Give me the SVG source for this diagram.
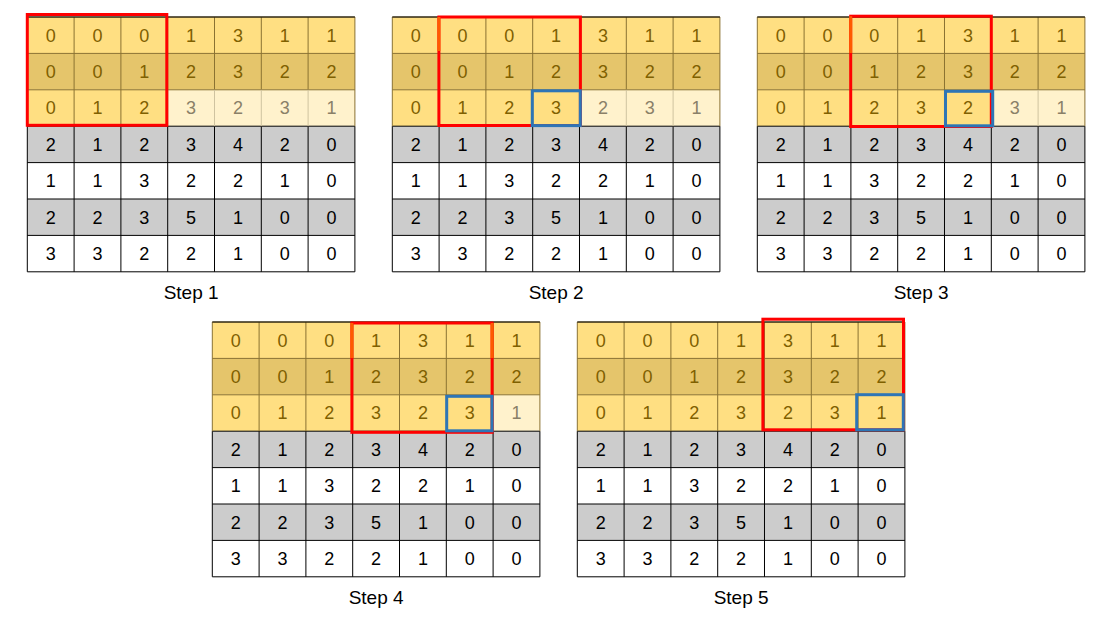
<svg xmlns="http://www.w3.org/2000/svg" width="1113" height="621" viewBox="0 0 1113 621">
<style>
.ya{fill:#FFDF82}.yb{fill:#E5C56B}.lt{fill:#FFF2CC}.gr{fill:#CCCCCC}.wh{fill:#FFFFFF}
.lnb{stroke:#000;stroke-width:1;fill:none}
.lny{stroke:#8A7232;stroke-width:1;fill:none}
.lnl{stroke:#CFC3A0;stroke-width:1;fill:none}
text{font-family:"Liberation Sans",Arial,sans-serif;font-size:18px;text-anchor:middle}
.ty{fill:#7F6000}.tl{fill:#8A8068}.tk{fill:#000}
.lbl{font-size:19px;fill:#000}
.red{fill:none;stroke:#FF0000;stroke-width:3}
.org{fill:none;stroke:#FF5A00;stroke-width:3}
.blu{fill:none;stroke:#2E75B6;stroke-width:3}
</style>
<defs>
<g id="bottomRows">
<rect class="gr" x="0" y="109.2" width="327.6" height="36.4"/>
<rect class="wh" x="0" y="145.6" width="327.6" height="36.4"/>
<rect class="gr" x="0" y="182" width="327.6" height="36.4"/>
<rect class="wh" x="0" y="218.4" width="327.6" height="36.4"/>
<path class="lnb" d="M0 109.2H327.6M0 145.6H327.6M0 182H327.6M0 218.4H327.6M0 254.8H327.6M0 109.2V254.8M46.8 109.2V254.8M93.6 109.2V254.8M140.4 109.2V254.8M187.2 109.2V254.8M234 109.2V254.8M280.8 109.2V254.8M327.6 109.2V254.8"/>
</g>
</defs>

<!-- Step 1 -->
<g id="step1" transform="translate(27.3,17)">
<rect class="ya" x="0" y="0" width="327.6" height="36.4"/>
<rect class="yb" x="0" y="36.4" width="327.6" height="36.4"/>
<rect class="ya" x="0" y="72.8" width="140.4" height="36.4"/>
<rect class="lt" x="140.4" y="72.8" width="187.2" height="36.4"/>
<use href="#bottomRows"/>
<path class="lny" d="M0 0H327.6M0 36.4H327.6M0 72.8H327.6M0 0V109.2M327.6 0V109.2M46.8 0V109.2M93.6 0V109.2M140.4 0V109.2M187.2 0V72.8M234 0V72.8M280.8 0V72.8"/>
<path class="lnl" d="M187.2 72.8V109.2M234 72.8V109.2M280.8 72.8V109.2"/>
<path class="lnb" d="M0 0H327.6"/>
<text class="ty" x="23.4" y="24.6">0</text><text class="ty" x="70.2" y="24.6">0</text><text class="ty" x="117" y="24.6">0</text><text class="ty" x="163.8" y="24.6">1</text><text class="ty" x="210.6" y="24.6">3</text><text class="ty" x="257.4" y="24.6">1</text><text class="ty" x="304.2" y="24.6">1</text>
<text class="ty" x="23.4" y="61">0</text><text class="ty" x="70.2" y="61">0</text><text class="ty" x="117" y="61">1</text><text class="ty" x="163.8" y="61">2</text><text class="ty" x="210.6" y="61">3</text><text class="ty" x="257.4" y="61">2</text><text class="ty" x="304.2" y="61">2</text>
<text class="ty" x="23.4" y="97.4">0</text><text class="ty" x="70.2" y="97.4">1</text><text class="ty" x="117" y="97.4">2</text><text class="tl" x="163.8" y="97.4">3</text><text class="tl" x="210.6" y="97.4">2</text><text class="tl" x="257.4" y="97.4">3</text><text class="tl" x="304.2" y="97.4">1</text>
<text class="tk" x="23.4" y="133.8">2</text><text class="tk" x="70.2" y="133.8">1</text><text class="tk" x="117" y="133.8">2</text><text class="tk" x="163.8" y="133.8">3</text><text class="tk" x="210.6" y="133.8">4</text><text class="tk" x="257.4" y="133.8">2</text><text class="tk" x="304.2" y="133.8">0</text>
<text class="tk" x="23.4" y="170.2">1</text><text class="tk" x="70.2" y="170.2">1</text><text class="tk" x="117" y="170.2">3</text><text class="tk" x="163.8" y="170.2">2</text><text class="tk" x="210.6" y="170.2">2</text><text class="tk" x="257.4" y="170.2">1</text><text class="tk" x="304.2" y="170.2">0</text>
<text class="tk" x="23.4" y="206.6">2</text><text class="tk" x="70.2" y="206.6">2</text><text class="tk" x="117" y="206.6">3</text><text class="tk" x="163.8" y="206.6">5</text><text class="tk" x="210.6" y="206.6">1</text><text class="tk" x="257.4" y="206.6">0</text><text class="tk" x="304.2" y="206.6">0</text>
<text class="tk" x="23.4" y="243">3</text><text class="tk" x="70.2" y="243">3</text><text class="tk" x="117" y="243">2</text><text class="tk" x="163.8" y="243">2</text><text class="tk" x="210.6" y="243">1</text><text class="tk" x="257.4" y="243">0</text><text class="tk" x="304.2" y="243">0</text>
<rect class="red" x="0" y="-2.5" width="139.5" height="110.8"/>
<text class="lbl" x="163.8" y="281.5">Step 1</text>
</g>

<!-- Step 2 -->
<g id="step2" transform="translate(392.3,17)">
<rect class="ya" x="0" y="0" width="327.6" height="36.4"/>
<rect class="yb" x="0" y="36.4" width="327.6" height="36.4"/>
<rect class="ya" x="0" y="72.8" width="187.2" height="36.4"/>
<rect class="lt" x="187.2" y="72.8" width="140.4" height="36.4"/>
<use href="#bottomRows"/>
<path class="lny" d="M0 0H327.6M0 36.4H327.6M0 72.8H327.6M0 0V109.2M327.6 0V109.2M46.8 0V109.2M93.6 0V109.2M140.4 0V109.2M187.2 0V109.2M234 0V72.8M280.8 0V72.8"/>
<path class="lnl" d="M234 72.8V109.2M280.8 72.8V109.2"/>
<path class="lnb" d="M0 0H327.6"/>
<text class="ty" x="23.4" y="24.6">0</text><text class="ty" x="70.2" y="24.6">0</text><text class="ty" x="117" y="24.6">0</text><text class="ty" x="163.8" y="24.6">1</text><text class="ty" x="210.6" y="24.6">3</text><text class="ty" x="257.4" y="24.6">1</text><text class="ty" x="304.2" y="24.6">1</text>
<text class="ty" x="23.4" y="61">0</text><text class="ty" x="70.2" y="61">0</text><text class="ty" x="117" y="61">1</text><text class="ty" x="163.8" y="61">2</text><text class="ty" x="210.6" y="61">3</text><text class="ty" x="257.4" y="61">2</text><text class="ty" x="304.2" y="61">2</text>
<text class="ty" x="23.4" y="97.4">0</text><text class="ty" x="70.2" y="97.4">1</text><text class="ty" x="117" y="97.4">2</text><text class="ty" x="163.8" y="97.4">3</text><text class="tl" x="210.6" y="97.4">2</text><text class="tl" x="257.4" y="97.4">3</text><text class="tl" x="304.2" y="97.4">1</text>
<text class="tk" x="23.4" y="133.8">2</text><text class="tk" x="70.2" y="133.8">1</text><text class="tk" x="117" y="133.8">2</text><text class="tk" x="163.8" y="133.8">3</text><text class="tk" x="210.6" y="133.8">4</text><text class="tk" x="257.4" y="133.8">2</text><text class="tk" x="304.2" y="133.8">0</text>
<text class="tk" x="23.4" y="170.2">1</text><text class="tk" x="70.2" y="170.2">1</text><text class="tk" x="117" y="170.2">3</text><text class="tk" x="163.8" y="170.2">2</text><text class="tk" x="210.6" y="170.2">2</text><text class="tk" x="257.4" y="170.2">1</text><text class="tk" x="304.2" y="170.2">0</text>
<text class="tk" x="23.4" y="206.6">2</text><text class="tk" x="70.2" y="206.6">2</text><text class="tk" x="117" y="206.6">3</text><text class="tk" x="163.8" y="206.6">5</text><text class="tk" x="210.6" y="206.6">1</text><text class="tk" x="257.4" y="206.6">0</text><text class="tk" x="304.2" y="206.6">0</text>
<text class="tk" x="23.4" y="243">3</text><text class="tk" x="70.2" y="243">3</text><text class="tk" x="117" y="243">2</text><text class="tk" x="163.8" y="243">2</text><text class="tk" x="210.6" y="243">1</text><text class="tk" x="257.4" y="243">0</text><text class="tk" x="304.2" y="243">0</text>
<rect class="red" x="46.6" y="0" width="141.5" height="108.5"/>
<path class="org" d="M46.6 0V34"/>
<rect class="blu" x="140" y="73.8" width="48" height="34.8"/>
<text class="lbl" x="163.8" y="281.5">Step 2</text>
</g>

<!-- Step 3 -->
<g id="step3" transform="translate(757.3,17)">
<rect class="ya" x="0" y="0" width="327.6" height="36.4"/>
<rect class="yb" x="0" y="36.4" width="327.6" height="36.4"/>
<rect class="ya" x="0" y="72.8" width="234" height="36.4"/>
<rect class="lt" x="234" y="72.8" width="93.6" height="36.4"/>
<use href="#bottomRows"/>
<path class="lny" d="M0 0H327.6M0 36.4H327.6M0 72.8H327.6M0 0V109.2M327.6 0V109.2M46.8 0V109.2M93.6 0V109.2M140.4 0V109.2M187.2 0V109.2M234 0V109.2M280.8 0V72.8"/>
<path class="lnl" d="M280.8 72.8V109.2"/>
<path class="lnb" d="M0 0H327.6"/>
<text class="ty" x="23.4" y="24.6">0</text><text class="ty" x="70.2" y="24.6">0</text><text class="ty" x="117" y="24.6">0</text><text class="ty" x="163.8" y="24.6">1</text><text class="ty" x="210.6" y="24.6">3</text><text class="ty" x="257.4" y="24.6">1</text><text class="ty" x="304.2" y="24.6">1</text>
<text class="ty" x="23.4" y="61">0</text><text class="ty" x="70.2" y="61">0</text><text class="ty" x="117" y="61">1</text><text class="ty" x="163.8" y="61">2</text><text class="ty" x="210.6" y="61">3</text><text class="ty" x="257.4" y="61">2</text><text class="ty" x="304.2" y="61">2</text>
<text class="ty" x="23.4" y="97.4">0</text><text class="ty" x="70.2" y="97.4">1</text><text class="ty" x="117" y="97.4">2</text><text class="ty" x="163.8" y="97.4">3</text><text class="ty" x="210.6" y="97.4">2</text><text class="tl" x="257.4" y="97.4">3</text><text class="tl" x="304.2" y="97.4">1</text>
<text class="tk" x="23.4" y="133.8">2</text><text class="tk" x="70.2" y="133.8">1</text><text class="tk" x="117" y="133.8">2</text><text class="tk" x="163.8" y="133.8">3</text><text class="tk" x="210.6" y="133.8">4</text><text class="tk" x="257.4" y="133.8">2</text><text class="tk" x="304.2" y="133.8">0</text>
<text class="tk" x="23.4" y="170.2">1</text><text class="tk" x="70.2" y="170.2">1</text><text class="tk" x="117" y="170.2">3</text><text class="tk" x="163.8" y="170.2">2</text><text class="tk" x="210.6" y="170.2">2</text><text class="tk" x="257.4" y="170.2">1</text><text class="tk" x="304.2" y="170.2">0</text>
<text class="tk" x="23.4" y="206.6">2</text><text class="tk" x="70.2" y="206.6">2</text><text class="tk" x="117" y="206.6">3</text><text class="tk" x="163.8" y="206.6">5</text><text class="tk" x="210.6" y="206.6">1</text><text class="tk" x="257.4" y="206.6">0</text><text class="tk" x="304.2" y="206.6">0</text>
<text class="tk" x="23.4" y="243">3</text><text class="tk" x="70.2" y="243">3</text><text class="tk" x="117" y="243">2</text><text class="tk" x="163.8" y="243">2</text><text class="tk" x="210.6" y="243">1</text><text class="tk" x="257.4" y="243">0</text><text class="tk" x="304.2" y="243">0</text>
<rect class="red" x="93.4" y="-0.8" width="140.6" height="110.3"/>
<path class="org" d="M93.4 -0.8V36"/>
<rect class="blu" x="188.2" y="74.3" width="47.2" height="34.5"/>
<text class="lbl" x="163.8" y="281.5">Step 3</text>
</g>

<!-- Step 4 -->
<g id="step4" transform="translate(212.3,322)">
<rect class="ya" x="0" y="0" width="327.6" height="36.4"/>
<rect class="yb" x="0" y="36.4" width="327.6" height="36.4"/>
<rect class="ya" x="0" y="72.8" width="280.8" height="36.4"/>
<rect class="lt" x="280.8" y="72.8" width="46.8" height="36.4"/>
<use href="#bottomRows"/>
<path class="lny" d="M0 0H327.6M0 36.4H327.6M0 72.8H327.6M0 0V109.2M327.6 0V109.2M46.8 0V109.2M93.6 0V109.2M140.4 0V109.2M187.2 0V109.2M234 0V109.2M280.8 0V109.2"/>
<path class="lnb" d="M0 0H327.6"/>
<text class="ty" x="23.4" y="24.6">0</text><text class="ty" x="70.2" y="24.6">0</text><text class="ty" x="117" y="24.6">0</text><text class="ty" x="163.8" y="24.6">1</text><text class="ty" x="210.6" y="24.6">3</text><text class="ty" x="257.4" y="24.6">1</text><text class="ty" x="304.2" y="24.6">1</text>
<text class="ty" x="23.4" y="61">0</text><text class="ty" x="70.2" y="61">0</text><text class="ty" x="117" y="61">1</text><text class="ty" x="163.8" y="61">2</text><text class="ty" x="210.6" y="61">3</text><text class="ty" x="257.4" y="61">2</text><text class="ty" x="304.2" y="61">2</text>
<text class="ty" x="23.4" y="97.4">0</text><text class="ty" x="70.2" y="97.4">1</text><text class="ty" x="117" y="97.4">2</text><text class="ty" x="163.8" y="97.4">3</text><text class="ty" x="210.6" y="97.4">2</text><text class="ty" x="257.4" y="97.4">3</text><text class="tl" x="304.2" y="97.4">1</text>
<text class="tk" x="23.4" y="133.8">2</text><text class="tk" x="70.2" y="133.8">1</text><text class="tk" x="117" y="133.8">2</text><text class="tk" x="163.8" y="133.8">3</text><text class="tk" x="210.6" y="133.8">4</text><text class="tk" x="257.4" y="133.8">2</text><text class="tk" x="304.2" y="133.8">0</text>
<text class="tk" x="23.4" y="170.2">1</text><text class="tk" x="70.2" y="170.2">1</text><text class="tk" x="117" y="170.2">3</text><text class="tk" x="163.8" y="170.2">2</text><text class="tk" x="210.6" y="170.2">2</text><text class="tk" x="257.4" y="170.2">1</text><text class="tk" x="304.2" y="170.2">0</text>
<text class="tk" x="23.4" y="206.6">2</text><text class="tk" x="70.2" y="206.6">2</text><text class="tk" x="117" y="206.6">3</text><text class="tk" x="163.8" y="206.6">5</text><text class="tk" x="210.6" y="206.6">1</text><text class="tk" x="257.4" y="206.6">0</text><text class="tk" x="304.2" y="206.6">0</text>
<text class="tk" x="23.4" y="243">3</text><text class="tk" x="70.2" y="243">3</text><text class="tk" x="117" y="243">2</text><text class="tk" x="163.8" y="243">2</text><text class="tk" x="210.6" y="243">1</text><text class="tk" x="257.4" y="243">0</text><text class="tk" x="304.2" y="243">0</text>
<rect class="red" x="139.6" y="1" width="140.2" height="109.3"/>
<path class="org" d="M139.6 1V36M279.8 1V36"/>
<rect class="blu" x="234.4" y="74.3" width="45.3" height="34.5"/>
<text class="lbl" x="163.8" y="281.5">Step 4</text>
</g>

<!-- Step 5 -->
<g id="step5" transform="translate(577.3,322)">
<rect class="ya" x="0" y="0" width="327.6" height="36.4"/>
<rect class="yb" x="0" y="36.4" width="327.6" height="36.4"/>
<rect class="ya" x="0" y="72.8" width="327.6" height="36.4"/>
<use href="#bottomRows"/>
<path class="lny" d="M0 0H327.6M0 36.4H327.6M0 72.8H327.6M0 0V109.2M327.6 0V109.2M46.8 0V109.2M93.6 0V109.2M140.4 0V109.2M187.2 0V109.2M234 0V109.2M280.8 0V109.2"/>
<path class="lnb" d="M0 0H327.6"/>
<text class="ty" x="23.4" y="24.6">0</text><text class="ty" x="70.2" y="24.6">0</text><text class="ty" x="117" y="24.6">0</text><text class="ty" x="163.8" y="24.6">1</text><text class="ty" x="210.6" y="24.6">3</text><text class="ty" x="257.4" y="24.6">1</text><text class="ty" x="304.2" y="24.6">1</text>
<text class="ty" x="23.4" y="61">0</text><text class="ty" x="70.2" y="61">0</text><text class="ty" x="117" y="61">1</text><text class="ty" x="163.8" y="61">2</text><text class="ty" x="210.6" y="61">3</text><text class="ty" x="257.4" y="61">2</text><text class="ty" x="304.2" y="61">2</text>
<text class="ty" x="23.4" y="97.4">0</text><text class="ty" x="70.2" y="97.4">1</text><text class="ty" x="117" y="97.4">2</text><text class="ty" x="163.8" y="97.4">3</text><text class="ty" x="210.6" y="97.4">2</text><text class="ty" x="257.4" y="97.4">3</text><text class="ty" x="304.2" y="97.4">1</text>
<text class="tk" x="23.4" y="133.8">2</text><text class="tk" x="70.2" y="133.8">1</text><text class="tk" x="117" y="133.8">2</text><text class="tk" x="163.8" y="133.8">3</text><text class="tk" x="210.6" y="133.8">4</text><text class="tk" x="257.4" y="133.8">2</text><text class="tk" x="304.2" y="133.8">0</text>
<text class="tk" x="23.4" y="170.2">1</text><text class="tk" x="70.2" y="170.2">1</text><text class="tk" x="117" y="170.2">3</text><text class="tk" x="163.8" y="170.2">2</text><text class="tk" x="210.6" y="170.2">2</text><text class="tk" x="257.4" y="170.2">1</text><text class="tk" x="304.2" y="170.2">0</text>
<text class="tk" x="23.4" y="206.6">2</text><text class="tk" x="70.2" y="206.6">2</text><text class="tk" x="117" y="206.6">3</text><text class="tk" x="163.8" y="206.6">5</text><text class="tk" x="210.6" y="206.6">1</text><text class="tk" x="257.4" y="206.6">0</text><text class="tk" x="304.2" y="206.6">0</text>
<text class="tk" x="23.4" y="243">3</text><text class="tk" x="70.2" y="243">3</text><text class="tk" x="117" y="243">2</text><text class="tk" x="163.8" y="243">2</text><text class="tk" x="210.6" y="243">1</text><text class="tk" x="257.4" y="243">0</text><text class="tk" x="304.2" y="243">0</text>
<rect class="red" x="185.6" y="-2.8" width="140.6" height="110.6"/>
<rect class="blu" x="279.4" y="72.7" width="46.6" height="35.1"/>
<text class="lbl" x="163.8" y="281.5">Step 5</text>
</g>
<g id="connectors"/>
</svg>
